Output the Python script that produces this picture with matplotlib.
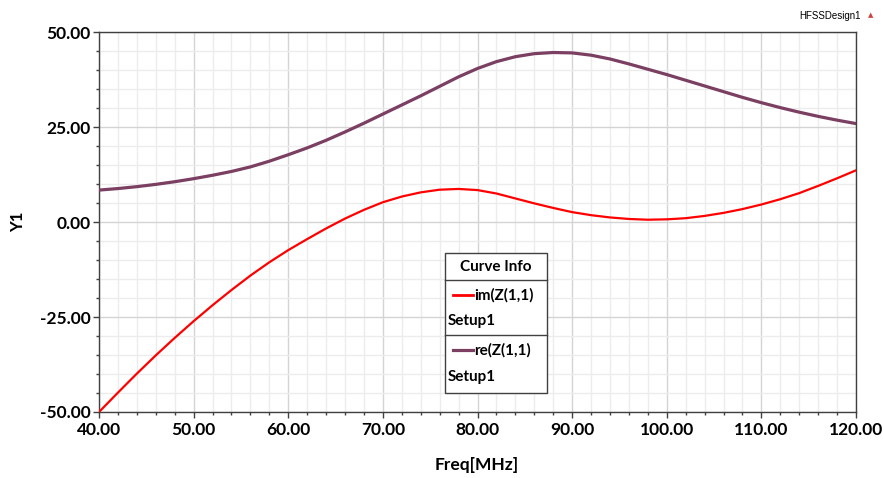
import matplotlib
matplotlib.use("Agg")
import matplotlib.pyplot as plt
from matplotlib.ticker import MultipleLocator, FormatStrFormatter
from matplotlib.patches import Rectangle
from matplotlib.lines import Line2D

freq = [40, 42, 44, 46, 48, 50, 52, 54, 56, 58, 60, 62, 64, 66, 68, 70,
        72, 74, 76, 78, 80, 82, 84, 86, 88, 90, 92, 94, 96, 98, 100,
        102, 104, 106, 108, 110, 112, 114, 116, 118, 120]
im_z11 = [-50.0, -44.9, -39.9, -35.1, -30.5, -26.1, -21.9, -17.9, -14.1, -10.6, -7.4,
          -4.5, -1.7, 0.9, 3.2, 5.2,
          6.7, 7.8, 8.5, 8.7, 8.4, 7.5, 6.2, 4.9, 3.7, 2.6, 1.8, 1.2, 0.8, 0.6, 0.7,
          1.0, 1.6, 2.4, 3.4, 4.6, 6.0, 7.6, 9.5, 11.5, 13.6]
re_z11 = [8.4, 8.8, 9.3, 9.9, 10.6, 11.4, 12.3, 13.3, 14.5, 16.0, 17.7,
          19.5, 21.5, 23.7, 26.0, 28.4,
          30.8, 33.2, 35.7, 38.2, 40.4, 42.2, 43.5, 44.3, 44.6, 44.5, 43.9, 42.9, 41.6, 40.2, 38.8,
          37.3, 35.8, 34.3, 32.8, 31.4, 30.1, 28.9, 27.8, 26.8, 25.9]

x_ticks = [40, 50, 60, 70, 80, 90, 100, 110, 120]
y_ticks = [-50, -25, 0, 25, 50]
legend_entries = ["im(Z(1,1)", "re(Z(1,1)"]
legend_setup = "Setup1"
design_name = "HFSSDesign1"

plt.rcParams['font.family'] = ['Lato', 'DejaVu Sans']

fig = plt.figure(figsize=(8.84, 4.78), dpi=100)
W, H = 884, 478
ax = fig.add_axes([99 / W, 1 - 412 / H, 757 / W, 380 / H])

c_im = '#ff0000'
c_re = '#7b3f62'
ax.plot(freq, im_z11, color=c_im, lw=1.6, zorder=3, solid_joinstyle='round')
ax.plot(freq, re_z11, color=c_re, lw=2.3, zorder=3, solid_joinstyle='round')

ax.set_xlim(40, 120)
ax.set_ylim(-50, 50)
ax.set_xticks(x_ticks)
ax.set_yticks(y_ticks)
ax.xaxis.set_minor_locator(MultipleLocator(2))
ax.yaxis.set_minor_locator(MultipleLocator(5))
ax.xaxis.set_major_formatter(FormatStrFormatter('%.2f'))
ax.yaxis.set_major_formatter(FormatStrFormatter('%.2f'))

ax.grid(which='major', color='#d4d4d4', lw=1.0, zorder=0)
ax.grid(which='minor', color='#ececec', lw=1.0, zorder=0)
ax.set_axisbelow(True)

for s in ax.spines.values():
    s.set_color('#404040')
    s.set_linewidth(1.0)

ax.tick_params(which='major', direction='out', length=4.5, width=1, color='#404040',
               labelsize=12.5, pad=1.5)
ax.tick_params(which='minor', direction='out', length=2.3, width=1, color='#404040')
ax.tick_params(axis='x', which='major', pad=2.5)
for lab in ax.get_xticklabels() + ax.get_yticklabels():
    lab.set_fontweight('bold')

fig.text(18 / W, 1 - 222 / H, 'Y1', rotation=90, ha='center', va='center',
         fontsize=12, fontweight='bold')
fig.text(477 / W, 1 - 465 / H, 'Freq[MHz]', ha='center', va='center',
         fontsize=12.5, fontweight='bold')
fig.text(830 / W, 1 - 16 / H, design_name, ha='center', va='center',
         fontsize=7, family=['Liberation Sans Narrow', 'Liberation Sans', 'DejaVu Sans'])
fig.text(871 / W, 1 - 15 / H, '\u25B2', ha='center', va='center', fontsize=5,
         color='#d04040', family='DejaVu Sans')

# legend box drawn in figure pixel coordinates
def fx(px):
    return px / W

def fy(py):
    return 1 - py / H

lx0, lx1, ly0, ly1 = 445, 547, 253, 393
fig.patches.append(Rectangle((fx(lx0), fy(ly1)), fx(lx1) - fx(lx0), fy(ly0) - fy(ly1),
                             transform=fig.transFigure, facecolor='white',
                             edgecolor='#404040', lw=1.0, zorder=5))
for py in (280, 335):
    fig.lines.append(Line2D([fx(lx0), fx(lx1)], [fy(py), fy(py)], transform=fig.transFigure,
                            color='#404040', lw=1.0, zorder=6))
fig.text(fx(496), fy(267), 'Curve Info', ha='center', va='center', fontsize=11,
         fontweight='bold', zorder=7)
rows = [(295, 321, c_im, 2.0), (350, 377, c_re, 2.3)]
for (yl, ys, col, lw), name in zip(rows, legend_entries):
    fig.lines.append(Line2D([fx(453), fx(473)], [fy(yl), fy(yl)], transform=fig.transFigure,
                            color=col, lw=lw, zorder=7))
    fig.text(fx(474), fy(yl), name, ha='left', va='center', fontsize=11,
             fontweight='bold', zorder=7)
    fig.text(fx(448), fy(ys), legend_setup, ha='left', va='center', fontsize=11,
             fontweight='bold', zorder=7)

fig.savefig('out.png', dpi=100)
